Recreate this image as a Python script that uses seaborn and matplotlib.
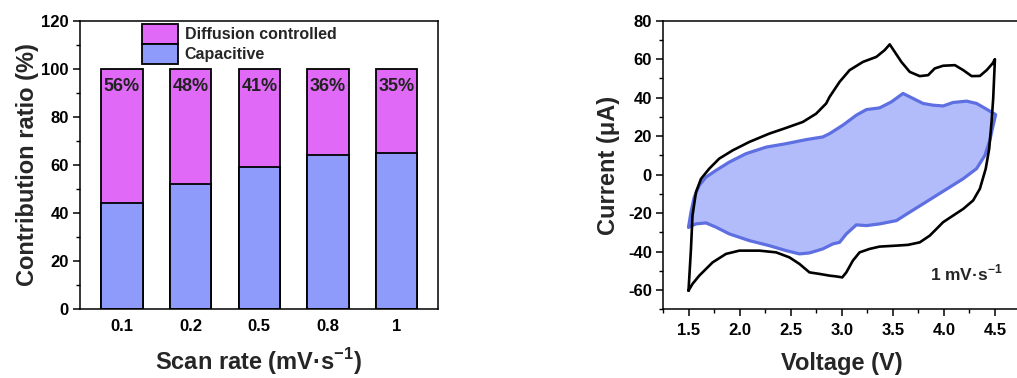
import numpy as np
import pandas as pd
import matplotlib
matplotlib.use("Agg")
import matplotlib.pyplot as plt
from matplotlib.patches import Patch
from matplotlib.ticker import MultipleLocator
import seaborn as sns

# ---------------- data ----------------
scan_rates = ["0.1", "0.2", "0.5", "0.8", "1"]
capacitive = [44, 52, 59, 64, 65]
diffusion = [56, 48, 41, 36, 35]

# CV at 1 mV/s: total current (black loop)
v_total = [1.50, 1.524, 1.539, 1.573, 1.622, 1.703, 1.80, 1.932, 2.096, 2.29, 2.456, 2.62,
           2.75, 2.848, 2.881, 2.979, 3.077, 3.208, 3.339, 3.42, 3.47, 3.519, 3.584, 3.666,
           3.764, 3.846, 3.911, 3.993, 4.108, 4.19, 4.272, 4.353, 4.419, 4.477, 4.50,
           4.483, 4.467, 4.444, 4.41, 4.353, 4.287, 4.19, 4.09, 3.993, 3.928, 3.862, 3.764,
           3.649, 3.535, 3.371, 3.273, 3.175, 3.109, 3.045, 3.005, 2.946, 2.881, 2.783,
           2.684, 2.586, 2.488, 2.358, 2.194, 1.998, 1.867, 1.736, 1.605, 1.539, 1.50]
i_total = [-60.3, -38.6, -21.3, -9.1, -2.2, 3.1, 8.3, 12.6, 17.0, 21.3, 24.3, 27.4,
           31.7, 37.0, 40.4, 48.2, 54.3, 58.6, 61.2, 64.7, 67.7, 63.8, 58.6, 53.4,
           51.2, 51.7, 55.2, 56.6, 56.9, 54.3, 51.2, 51.3, 54.3, 57.8, 60.0,
           39.5, 27.4, 13.5, 3.1, -7.3, -13.4, -17.8, -21.3, -24.7, -28.2, -31.7, -35.2,
           -36.5, -36.9, -37.4, -38.6, -40.4, -44.7, -50.8, -53.4, -52.9, -52.5, -51.6,
           -50.8, -46.4, -43.0, -40.4, -39.5, -39.5, -41.2, -45.6, -52.5, -56.8, -60.3]

# capacitive contribution (blue shaded loop)
v_cap = [1.50, 1.524, 1.556, 1.605, 1.671, 1.769, 1.899, 2.063, 2.26, 2.456, 2.652, 2.815,
         2.881, 3.011, 3.143, 3.241, 3.371, 3.486, 3.60, 3.698, 3.796, 3.894, 3.993, 4.09,
         4.222, 4.32, 4.419, 4.507,
         4.483, 4.45, 4.402, 4.32, 4.19, 4.058, 3.928, 3.796, 3.666, 3.535, 3.371, 3.241,
         3.143, 3.045, 2.979, 2.913, 2.815, 2.684, 2.586, 2.456, 2.29, 2.096, 1.899, 1.769,
         1.671, 1.573, 1.50]
i_cap = [-27.3, -19.5, -11.7, -5.6, -1.3, 2.2, 6.5, 10.9, 14.3, 16.1, 18.2, 19.6,
         21.3, 25.7, 30.9, 33.8, 34.7, 37.8, 42.2, 39.6, 37.0, 36.1, 35.7, 37.5,
         38.2, 37.0, 34.0, 31.2,
         25.7, 17.8, 10.0, 3.1, -2.1, -6.5, -10.8, -15.2, -19.5, -23.9, -25.6, -26.5,
         -26.1, -30.8, -35.2, -36.0, -38.6, -40.7, -41.2, -39.5, -36.9, -34.3, -30.8, -27.3,
         -25.1, -25.6, -27.3]

MAGENTA = "#E169F8"
BAR_BLUE = "#8E9BFA"
FILL_BLUE = "#B2BCFA"
LINE_BLUE = "#5E6FE2"

# ---------------- style ----------------
sns.set_theme(style="ticks")
plt.rcParams["font.family"] = ["Liberation Sans", "DejaVu Sans"]
plt.rcParams["font.weight"] = "bold"
plt.rcParams["axes.labelweight"] = "bold"
plt.rcParams["axes.unicode_minus"] = False
plt.rcParams["mathtext.fontset"] = "custom"
plt.rcParams["mathtext.rm"] = "Liberation Sans:bold"
plt.rcParams["mathtext.bf"] = "Liberation Sans:bold"
plt.rcParams["axes.edgecolor"] = "black"
plt.rcParams["axes.linewidth"] = 1.1
plt.rcParams["xtick.color"] = "black"
plt.rcParams["ytick.color"] = "black"

fig = plt.figure(figsize=(10.17, 3.78), dpi=100)
ax1 = fig.add_axes([0.0787, 0.1817, 0.352, 0.7635])
ax2 = fig.add_axes([0.6519, 0.1817, 0.3515, 0.7635])

# ---------------- left: stacked bars ----------------
df = pd.DataFrame({"rate": scan_rates, "cap": capacitive, "diff": diffusion})
df["total"] = df["cap"] + df["diff"]

sns.barplot(data=df, x="rate", y="total", color=MAGENTA, saturation=1, width=0.6,
            edgecolor="black", linewidth=1.3, ax=ax1)
sns.barplot(data=df, x="rate", y="cap", color=BAR_BLUE, saturation=1, width=0.6,
            edgecolor="black", linewidth=1.3, ax=ax1)
ax1.bar_label(ax1.containers[0], labels=[f"{d}%" for d in diffusion], padding=-19,
              fontsize=13, fontweight="bold", color="#222222")

ax1.set_xlim(-0.61, 4.6)
ax1.set_ylim(0, 120)
ax1.yaxis.set_major_locator(MultipleLocator(20))
ax1.yaxis.set_minor_locator(MultipleLocator(10))
ax1.tick_params(axis="x", length=0, labelsize=12, pad=7)
ax1.tick_params(axis="y", which="major", length=5, width=1.1, labelsize=12, pad=3, direction="out")
ax1.tick_params(axis="y", which="minor", length=3, width=1.0, direction="out", left=True)
ax1.set_xlabel("Scan rate (mV·s$^{-1}$)", fontsize=17, labelpad=9)
ax1.set_ylabel("Contribution ratio (%)", fontsize=17, labelpad=2)

handles = [Patch(facecolor=MAGENTA, edgecolor="black", linewidth=1.3),
           Patch(facecolor=BAR_BLUE, edgecolor="black", linewidth=1.3)]
ax1.legend(handles, ["Diffusion controlled", "Capacitive"], loc="upper left",
           bbox_to_anchor=(0.172, 0.988), frameon=False, fontsize=11.5,
           handlelength=2.3, handleheight=1.55, handletextpad=0.4,
           labelspacing=0.0, borderpad=0, borderaxespad=0)

# ---------------- right: CV ----------------
ax2.fill(v_cap, i_cap, color=FILL_BLUE, lw=0, zorder=1)
sns.lineplot(x=v_cap, y=i_cap, sort=False, estimator=None, color=LINE_BLUE, lw=2.3,
             ax=ax2, zorder=2)
sns.lineplot(x=v_total, y=i_total, sort=False, estimator=None, color="black", lw=1.9,
             ax=ax2, zorder=3)

ax2.set_xlim(1.25, 4.75)
ax2.set_ylim(-70, 80)
ax2.xaxis.set_major_locator(MultipleLocator(0.5))
ax2.xaxis.set_minor_locator(MultipleLocator(0.25))
ax2.yaxis.set_major_locator(MultipleLocator(20))
ax2.yaxis.set_minor_locator(MultipleLocator(10))
ax2.xaxis.set_major_formatter(matplotlib.ticker.FormatStrFormatter("%.1f"))
ax2.tick_params(axis="both", which="major", length=5, width=1.1, labelsize=12, direction="out")
ax2.tick_params(axis="both", which="minor", length=3, width=1.0, direction="out",
                bottom=True, left=True)
ax2.tick_params(axis="x", pad=5)
ax2.tick_params(axis="y", pad=3)
ax2.set_xlabel("Voltage (V)", fontsize=17, labelpad=10)
ax2.set_ylabel("Current (μA)", fontsize=17, labelpad=6)
ax2.text(4.58, -51, "1 mV·s$^{-1}$", ha="right", va="center", fontsize=12.5,
         fontweight="bold")

fig.savefig("out.png", dpi=100)
